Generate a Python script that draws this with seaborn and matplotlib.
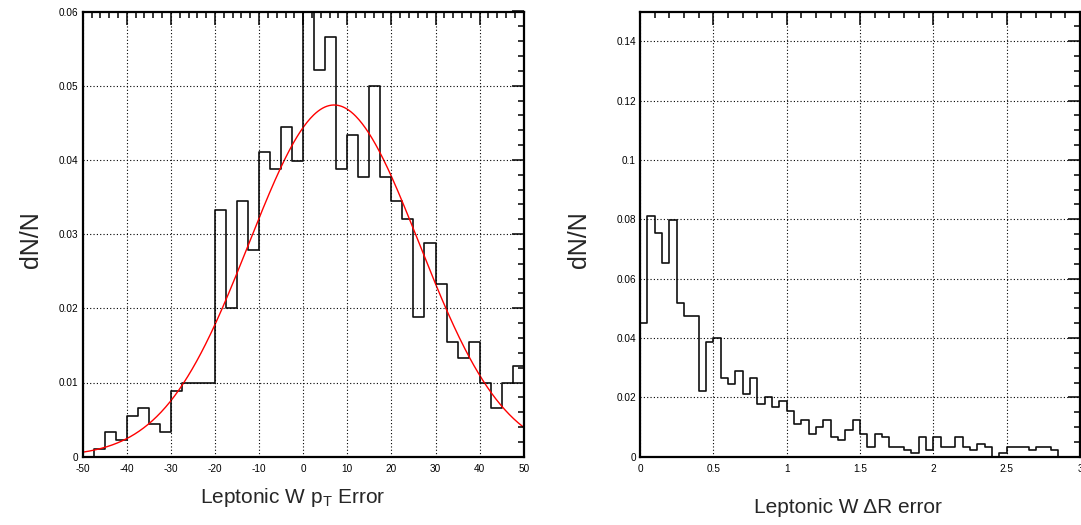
import numpy as np
import pandas as pd
import matplotlib
matplotlib.use("Agg")
import matplotlib.pyplot as plt
import seaborn as sns
from matplotlib.ticker import MultipleLocator, FuncFormatter

# ---------------- data ----------------
# Left panel: Leptonic W pT error, 40 bins of width 2.5 over [-50, 50]
pt_range = (-50.0, 50.0)
pt_nbins = 40
pt_dn = [0.0, 0.0011, 0.0033, 0.0022, 0.0055, 0.0066, 0.0044, 0.0033,
         0.0089, 0.0100, 0.0100, 0.0100, 0.0333, 0.0200, 0.0344, 0.0278,
         0.0410, 0.0388, 0.0444, 0.0399, 0.0630, 0.0521, 0.0565, 0.0388,
         0.0433, 0.0377, 0.0499, 0.0377, 0.0344, 0.0321, 0.0188, 0.0288,
         0.0233, 0.0155, 0.0133, 0.0155, 0.0099, 0.0066, 0.0099, 0.0122]
# Gaussian fit drawn on the left panel
fit_amp, fit_mean, fit_sigma = 0.0474, 7.0, 19.3

# Right panel: Leptonic W dR error, 60 bins of width 0.05 over [0, 3]
dr_range = (0.0, 3.0)
dr_nbins = 60
dr_dn = [0.0449, 0.0810, 0.0753, 0.0654, 0.0798, 0.0518, 0.0473, 0.0473,
         0.0222, 0.0386, 0.0399, 0.0265, 0.0245, 0.0288, 0.0211, 0.0265,
         0.0178, 0.0200, 0.0166, 0.0189, 0.0155, 0.0111, 0.0122, 0.0078,
         0.0100, 0.0122, 0.0067, 0.0055, 0.0089, 0.0122, 0.0078, 0.0033,
         0.0078, 0.0067, 0.0033, 0.0033, 0.0022, 0.0011, 0.0067, 0.0022,
         0.0067, 0.0033, 0.0033, 0.0067, 0.0033, 0.0022, 0.0044, 0.0033,
         0.0000, 0.0011, 0.0033, 0.0033, 0.0033, 0.0022, 0.0033, 0.0033,
         0.0022, 0.0000, 0.0000, 0.0000]

left_xlabel = r"Leptonic W $\mathrm{p}_{\mathrm{T}}$ Error"
right_xlabel = "Leptonic W \u0394R error"
ylabel = "dN/N"

# ---------------- style ----------------
sns.set_style("white")
plt.rcParams["font.family"] = ["Liberation Sans", "DejaVu Sans"]
plt.rcParams["mathtext.fontset"] = "custom"
plt.rcParams["mathtext.rm"] = "Liberation Sans"
plt.rcParams["mathtext.it"] = "Liberation Sans"
plt.rcParams["axes.unicode_minus"] = False

W, H = 1081, 525
fig = plt.figure(figsize=(W / 100, H / 100), dpi=100)
bottom = (H - 456.7) / H
height = (456.7 - 11.5) / H
axL = fig.add_axes([82.7 / W, bottom, 441.0 / W, height])
axR = fig.add_axes([640.0 / W, bottom, 440.0 / W, height])


def fmt(v, pos):
    return f"{round(v, 6):g}"


def style_axes(ax, xmaj, xmin, ymaj, ymin):
    ax.xaxis.set_major_locator(MultipleLocator(xmaj))
    ax.xaxis.set_minor_locator(MultipleLocator(xmin))
    ax.yaxis.set_major_locator(MultipleLocator(ymaj))
    ax.yaxis.set_minor_locator(MultipleLocator(ymin))
    ax.xaxis.set_major_formatter(FuncFormatter(fmt))
    ax.yaxis.set_major_formatter(FuncFormatter(fmt))
    ax.tick_params(which="both", direction="in", top=True, right=True,
                   color="black", width=1.1, labelsize=7.2, labelcolor="black")
    ax.tick_params(which="major", length=9, pad=3)
    ax.tick_params(which="minor", length=4.5)
    ax.tick_params(axis="x", which="major", pad=5)
    ax.grid(True, which="major", color="black", linestyle=(0, (1, 2)), linewidth=0.8)
    ax.set_axisbelow(False)
    for sp in ax.spines.values():
        sp.set_color("black")
        sp.set_linewidth(1.6)
    ax.set_xlabel("")
    ax.set_ylabel("")


# ---------------- left panel ----------------
pt_width = (pt_range[1] - pt_range[0]) / pt_nbins
pt_edges = np.linspace(pt_range[0], pt_range[1], pt_nbins + 1)
pt_df = pd.DataFrame({"x": (pt_edges[:-1] + pt_edges[1:]) / 2, "w": pt_dn})
sns.histplot(data=pt_df, x="x", weights="w", binwidth=pt_width, binrange=pt_range,
             element="step", fill=False, color="#111111", linewidth=1.2, ax=axL)
fx = np.linspace(pt_range[0], pt_range[1], 400)
fit_df = pd.DataFrame({"x": fx, "y": fit_amp * np.exp(-0.5 * ((fx - fit_mean) / fit_sigma) ** 2)})
sns.lineplot(data=fit_df, x="x", y="y", color="red", linewidth=1.0, ax=axL)
axL.set_xlim(*pt_range)
axL.set_ylim(0, 0.06)
style_axes(axL, 10, 2, 0.01, 0.002)

# ---------------- right panel ----------------
dr_width = (dr_range[1] - dr_range[0]) / dr_nbins
dr_edges = np.linspace(dr_range[0], dr_range[1], dr_nbins + 1)
dr_df = pd.DataFrame({"x": (dr_edges[:-1] + dr_edges[1:]) / 2, "w": dr_dn})
sns.histplot(data=dr_df, x="x", weights="w", binwidth=dr_width, binrange=dr_range,
             element="step", fill=False, color="#111111", linewidth=1.2, ax=axR)
axR.set_xlim(*dr_range)
axR.set_ylim(0, 0.15)
style_axes(axR, 0.5, 0.1, 0.02, 0.005)

# ---------------- titles ----------------
fig.text(293 / W, 1 - 503 / H, left_xlabel, ha="center", va="baseline", fontsize=15)
fig.text(848 / W, 1 - 513 / H, right_xlabel, ha="center", va="baseline", fontsize=15)
fig.text(31 / W, 1 - 240 / H, ylabel, ha="center", va="center", rotation=90, fontsize=18)
fig.text(579 / W, 1 - 240 / H, ylabel, ha="center", va="center", rotation=90, fontsize=18)

fig.savefig("out.png", dpi=100)
